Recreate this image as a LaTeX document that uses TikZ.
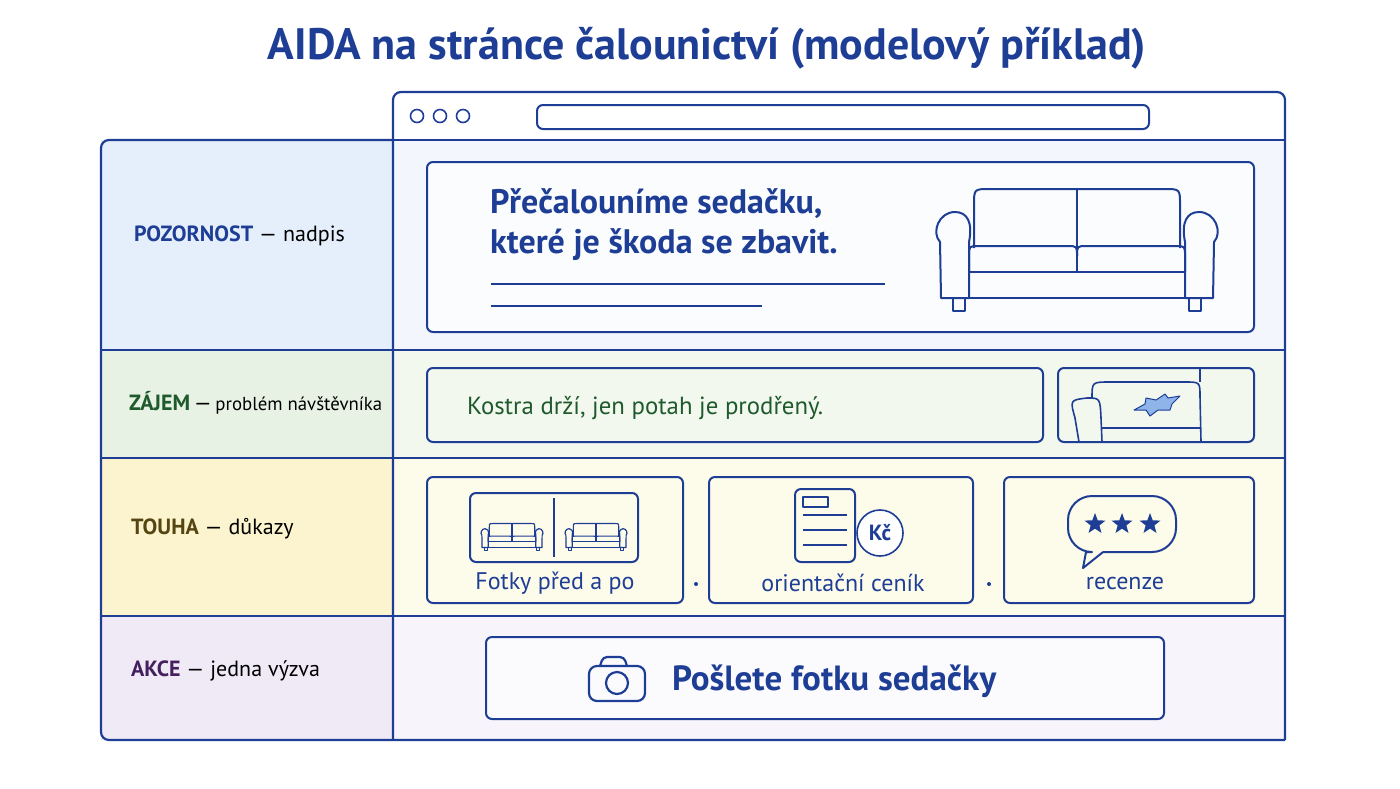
\documentclass[tikz,border=0pt]{standalone}
\usepackage{fontspec}
\setmainfont{PT Sans}
\usetikzlibrary{shapes.geometric}
\definecolor{ink}{HTML}{1E3E96}
\definecolor{bluebg}{HTML}{E5EFFB}
\definecolor{bluelt}{HTML}{F3F7FD}
\definecolor{greenbg}{HTML}{E8F2E4}
\definecolor{greenlt}{HTML}{F3F8EF}
\definecolor{yellowbg}{HTML}{FBF4CF}
\definecolor{yellowlt}{HTML}{FDFBEA}
\definecolor{lilacbg}{HTML}{F0EAF7}
\definecolor{lilaclt}{HTML}{F8F4FB}
\definecolor{greenink}{HTML}{1E5A2C}
\definecolor{oliveink}{HTML}{554510}
\definecolor{purpleink}{HTML}{45205E}
\definecolor{tear}{HTML}{8FB4EA}

\begin{document}
\begin{tikzpicture}[x=0.5pt,y=-0.5pt,line join=round,
    frame/.style={draw=ink,line width=1.1pt},
    card/.style={draw=ink,line width=1pt,rounded corners=3pt},
    thin/.style={draw=ink,line width=0.8pt},
    rowlabel/.style={anchor=west,font=\fontsize{11}{13}\selectfont},
    sofa/.pic={
      % back
      \draw (-103,-2) -- (-103,-45) .. controls (-103,-61) .. (-87,-61) -- (87,-61)
        .. controls (103,-61) .. (103,-45) -- (103,-2);
      \draw (0,-61) -- (0,22);
      % seat cushions
      \draw (-108,22) -- (-108,6) .. controls (-108,-4) .. (-98,-4) -- (-10,-4)
        .. controls (0,-4) .. (0,6);
      \draw (0,6) .. controls (0,-4) .. (10,-4) -- (98,-4)
        .. controls (108,-4) .. (108,6) -- (108,22);
      \draw (-108,22) rectangle (108,48);
      % arms
      \draw (-136,48) -- (-137,-8) .. controls (-146,-18) and (-138,-38) .. (-122,-38)
        .. controls (-110,-38) and (-104,-28) .. (-108,-8) -- (-108,48) -- cycle;
      \draw (136,48) -- (137,-8) .. controls (146,-18) and (138,-38) .. (122,-38)
        .. controls (110,-38) and (104,-28) .. (108,-8) -- (108,48) -- cycle;
      % legs
      \draw (-124,48) rectangle (-112,61);
      \draw (112,48) rectangle (124,61);
    }]
  \useasboundingbox (0,0) rectangle (1400,788);
  % title
  \node[font=\bfseries\fontsize{22}{26}\selectfont,text=ink] (title) at (707,48)
    {AIDA na stránce čalounictví (modelový příklad)};
  % row backgrounds
  \fill[bluebg] (101,140) rectangle (393,350);
  \fill[bluelt] (393,140) rectangle (1285,350);
  \fill[greenbg] (101,350) rectangle (393,458);
  \fill[greenlt] (393,350) rectangle (1285,458);
  \fill[yellowbg] (101,458) rectangle (393,616);
  \fill[yellowlt] (393,458) rectangle (1285,616);
  \fill[lilacbg] (101,616) rectangle (393,740);
  \fill[lilaclt] (393,616) rectangle (1285,740);
  % browser frame
  \draw[frame,rounded corners=4pt] (393,740) -- (393,92) -- (1285,92) -- (1285,740);
  \draw[frame,rounded corners=4pt] (393,140) -- (101,140) -- (101,740) -- (1285,740);
  \draw[frame] (393,140) -- (1285,140);
  \foreach \x in {417,440,463}
    \draw[thin] (\x,116) circle (6.5);
  \draw[card] (537,105) rectangle (1149,129);
  \foreach \y in {350,458,616}
    \draw[frame] (101,\y) -- (1285,\y);
  % row labels
  \node[rowlabel] (pozornost) at (127,236) {\textbf{\color{ink}POZORNOST} — nadpis};
  \node[rowlabel] (zajem) at (122,403) {\textbf{\color{greenink}ZÁJEM}\,—\,{\fontsize{9.4}{11}\selectfont problém návštěvníka}};
  \node[rowlabel] (touha) at (124,529) {\textbf{\color{oliveink}TOUHA} — důkazy};
  \node[rowlabel] (akce) at (124,671) {\textbf{\color{purpleink}AKCE} — jedna výzva};
  % attention
  \draw[card,fill=white!60!bluelt] (427,162) rectangle (1254,332);
  \node[anchor=north west,align=left,text=ink,font=\bfseries\fontsize{17}{20}\selectfont]
    (headline) at (483,182) {Přečalouníme sedačku,\\které je škoda se zbavit.};
  \draw[thin] (491,284) -- (885,284);
  \draw[thin] (491,306) -- (762,306);
  \pic[thin,line width=1pt] (bigsofa) at (1077,250) {sofa};
  % interest
  \draw[card] (427,368) rectangle (1043,442);
  \node[anchor=west,text=greenink,font=\fontsize{12.4}{14}\selectfont] (problem) at (460,408)
    {Kostra drží, jen potah je prodřený.};
  \draw[card] (1058,368) rectangle (1254,442);
  \draw[thin] (1092,398) .. controls (1092,382) .. (1110,382) -- (1185,382)
    .. controls (1200,382) .. (1200,397) -- (1201,442);
  \draw[thin] (1200,368) -- (1200,382);
  \draw[thin] (1079,442) -- (1075,418) .. controls (1070,400) .. (1087,398)
    .. controls (1100,398) .. (1101,418) -- (1102,442);
  \draw[thin] (1102,428) -- (1201,428);
  \filldraw[fill=tear,draw=ink,line width=0.5pt] (1134,410) -- (1145,404) -- (1146,398)
    -- (1156,400) -- (1165,394) -- (1168,398) -- (1180,396) -- (1172,404) -- (1170,410)
    -- (1158,410) -- (1150,416) -- (1146,410) -- cycle;
  % desire
  \draw[card] (427,477) rectangle (683,603);
  \draw[card] (709,477) rectangle (973,603);
  \draw[card] (1004,477) rectangle (1254,603);
  \fill[ink] (696,584) circle (2) (989,584) circle (2);
  \draw[card] (470,493) rectangle (638,562);
  \draw[thin] (554,498) -- (554,557);
  \pic[thin,scale=0.22,line width=0.6pt] at (512,537) {sofa};
  \pic[thin,scale=0.22,line width=0.6pt] at (596,537) {sofa};
  \draw[card] (795,489) rectangle (855,562);
  \draw[thin] (803,497) rectangle (828,507);
  \foreach \y in {515,530,545}
    \draw[thin] (803,\y) -- (847,\y);
  \draw[thin,fill=white] (880,533) circle (23);
  \node[text=ink,font=\bfseries\fontsize{11}{13}\selectfont] (kc) at (880,533) {Kč};
  \draw[thin,line width=1pt,rounded corners=12] (1085,552) -- (1068,552) -- (1068,496) -- (1176,496) -- (1176,552) -- (1103,552);
  \draw[thin,line width=1pt] (1103,552) -- (1083,568) -- (1086,552);
  \foreach \x in {1095,1122,1150}
    \node[star,star points=5,star point ratio=2.4,fill=ink,minimum size=11pt,inner sep=0pt] at (\x,524) {};
  \node[text=ink,font=\fontsize{12}{14}\selectfont] (before) at (555,583) {Fotky před a po};
  \node[text=ink,font=\fontsize{12}{14}\selectfont] (prices) at (843,583) {orientační ceník};
  \node[text=ink,font=\fontsize{12}{14}\selectfont] (reviews) at (1125,583) {recenze};
  % action
  \draw[card,fill=white!50!lilaclt] (486,637) rectangle (1164,719);
  \draw[thin,line width=1.1pt,rounded corners=4] (589,666) rectangle (645,701);
  \draw[thin,line width=1.1pt,rounded corners=2] (600,666) -- (603,657) -- (624,657) -- (627,666);
  \draw[thin,line width=1.1pt] (617,683) circle (11);
  \node[anchor=west,text=ink,font=\bfseries\fontsize{17.5}{20}\selectfont] (cta) at (665,681) {Pošlete fotku sedačky};
\end{tikzpicture}
\end{document}
